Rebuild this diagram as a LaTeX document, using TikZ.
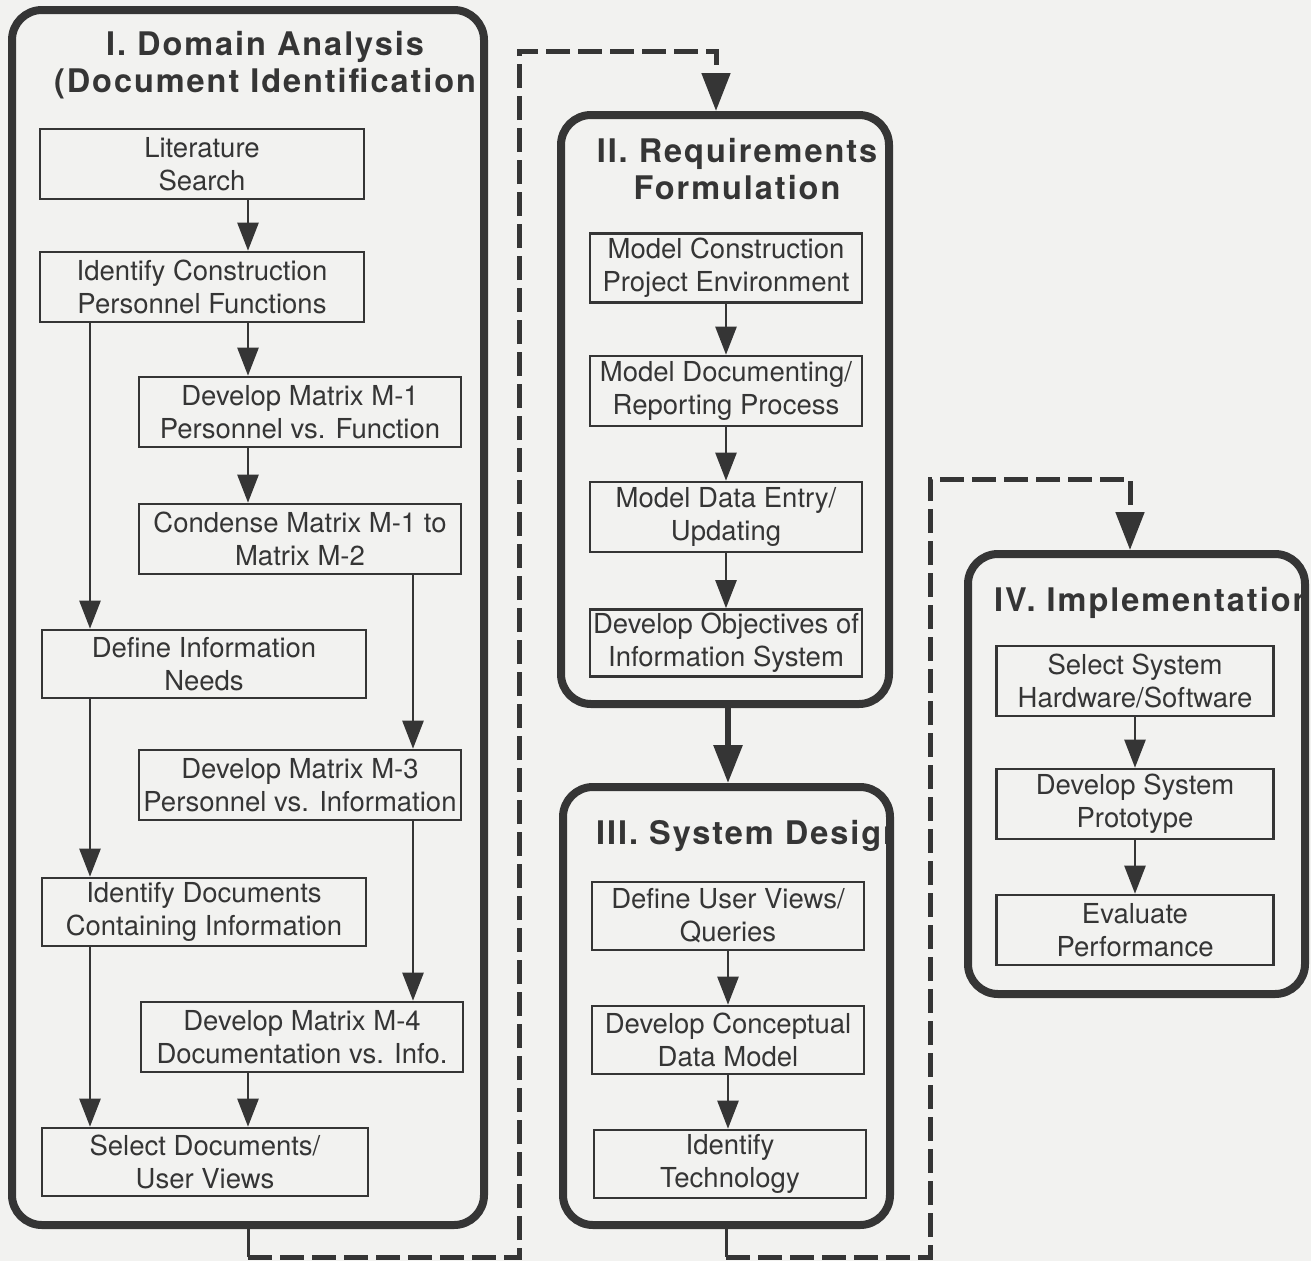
\documentclass[tikz,border=0pt]{standalone}
\usepackage{fontspec}
\setmainfont{TeX Gyre Heros}
\newfontfamily\ttlfont{TeX Gyre Heros}[LetterSpace=6]
\usetikzlibrary{arrows.meta}
\definecolor{ln}{HTML}{353535}
\definecolor{bgc}{HTML}{F2F2F0}
\begin{document}
\begin{tikzpicture}[x=1pt,y=-1pt,
 bx/.style={draw=ln, line width=2.6pt, inner sep=0pt, minimum height=70pt, align=center, text=ln, font=\fontsize{27.5}{33}\selectfont},
 panel/.style={draw=ln, line width=8pt, rounded corners=30pt, inner sep=0pt},
 ttl/.style={text=ln, align=center, inner sep=0pt, font=\ttlfont\bfseries\fontsize{32.5}{37}\selectfont},
 arr/.style={draw=ln, line width=2.5pt, -{Triangle[length=28pt,width=21pt]}},
 big/.style={draw=ln, line width=6pt, -{Triangle[length=38pt,width=28pt]}},
 dsh/.style={draw=ln, line width=5pt, dash pattern=on 24pt off 8pt, -{Triangle[length=38pt,width=28pt]}},
 stub/.style={draw=ln, line width=3pt}]
\fill[bgc] (0,0) rectangle (1311,1261);
\useasboundingbox (0,0) rectangle (1311,1261);
\clip (0,0) rectangle (1311,1261);
% titles
\node[ttl] (t1) at (265,65) {I. Domain Analysis\\(Document Identification};
\node[ttl] (t2) at (737,169) {II. Requirements\\Formulation};
\begin{scope}
\clip (560,790) rectangle (891,870);
\node[ttl, anchor=base west] (t3) at (596,844) {III. System Design};
\end{scope}
\begin{scope}
\clip (960,560) rectangle (1306,640);
\node[ttl, anchor=base west] (t4) at (994,611) {IV. Implementation};
\end{scope}
% panels
\node[panel, minimum width=472pt, minimum height=1215pt] (p1) at (248,617.5) {};
\node[panel, minimum width=328pt, minimum height=589pt] (p2) at (725,409.5) {};
\node[panel, minimum width=327pt, minimum height=438pt] (p3) at (726.5,1006) {};
\node[panel, minimum width=337pt, minimum height=440pt] (p4) at (1136.5,774) {};
% panel I boxes
\node[bx, minimum width=324pt] (lit) at (202,164) {Literature\\Search};
\node[bx, minimum width=324pt] (icp) at (202,287) {Identify Construction\\Personnel Functions};
\node[bx, minimum width=322pt] (m1) at (300,412) {Develop Matrix M-1\\Personnel vs. Function};
\node[bx, minimum width=322pt] (m2) at (300,539) {Condense Matrix M-1 to\\Matrix M-2};
\node[bx, minimum width=324pt, minimum height=68pt] (din) at (204,664) {Define Information\\Needs};
\node[bx, minimum width=322pt] (m3) at (300,785) {Develop Matrix M-3\\Personnel vs. Information};
\node[bx, minimum width=324pt, minimum height=68pt] (idc) at (204,912) {Identify Documents\\Containing Information};
\node[bx, minimum width=322pt] (m4) at (302,1037) {Develop Matrix M-4\\Documentation vs. Info.};
\node[bx, minimum width=326pt, minimum height=68pt] (sel) at (205,1162) {Select Documents/\\User Views};
% panel II boxes
\node[bx, minimum width=272pt, minimum height=69pt] (mc) at (726,268) {Model Construction\\Project Environment};
\node[bx, minimum width=272pt] (mdr) at (726,391) {Model Documenting/\\Reporting Process};
\node[bx, minimum width=272pt] (mde) at (726,517) {Model Data Entry/\\Updating};
\node[bx, minimum width=272pt, minimum height=67pt] (obj) at (726,643) {Develop Objectives of\\Information System};
% panel III boxes
\node[bx, minimum width=272pt, minimum height=68pt] (uv) at (728,916) {Define User Views/\\Queries};
\node[bx, minimum width=272pt, minimum height=68pt] (cdm) at (728,1040) {Develop Conceptual\\Data Model};
\node[bx, minimum width=272pt, minimum height=68pt] (tech) at (730,1164) {Identify\\Technology};
% panel IV boxes
\node[bx, minimum width=277pt] (hw) at (1135,681) {Select System\\Hardware/Software};
\node[bx, minimum width=277pt] (proto) at (1135,804) {Develop System\\Prototype};
\node[bx, minimum width=277pt] (eval) at (1135,930) {Evaluate\\Performance};
% helper coordinates
\coordinate (cx) at (248,0);
\coordinate (lx) at (90,0);
\coordinate (rx) at (413,0);
\coordinate (c2) at (726,0);
\coordinate (c3) at (728,0);
\coordinate (c4) at (1135,0);
\coordinate (bx2) at (728,0);
% panel I arrows
\draw[arr] (lit.south -| cx) -- (icp.north -| cx);
\draw[arr] (icp.south -| cx) -- (m1.north -| cx);
\draw[arr] (icp.south -| lx) -- (din.north -| lx);
\draw[arr] (m1.south -| cx) -- (m2.north -| cx);
\draw[arr] (m2.south -| rx) -- (m3.north -| rx);
\draw[arr] (din.south -| lx) -- (idc.north -| lx);
\draw[arr] (m3.south -| rx) -- (m4.north -| rx);
\draw[arr] (idc.south -| lx) -- (sel.north -| lx);
\draw[arr] (m4.south -| cx) -- (sel.north -| cx);
% panel II arrows
\draw[arr] (mc.south -| c2) -- (mdr.north -| c2);
\draw[arr] (mdr.south -| c2) -- (mde.north -| c2);
\draw[arr] (mde.south -| c2) -- (obj.north -| c2);
% panel III arrows
\draw[arr] (uv.south -| c3) -- (cdm.north -| c3);
\draw[arr] (cdm.south -| c3) -- (tech.north -| c3);
% panel IV arrows
\draw[arr] (hw.south -| c4) -- (proto.north -| c4);
\draw[arr] (proto.south -| c4) -- (eval.north -| c4);
% panel connectors
\draw[big] (p2.south -| bx2) -- (p3.north -| bx2);
\coordinate (b1) at (248,1257);
\coordinate (c1a) at (519,1257);
\coordinate (c1b) at (519,51);
\coordinate (c1c) at (716,51);
\draw[stub] (p1.south -| b1) -- (b1);
\draw[dsh] (b1) -- (c1a) -- (c1b) -- (c1c) -- (p2.north -| c1c);
\coordinate (b3) at (726,1257);
\coordinate (c3a) at (930,1257);
\coordinate (c3b) at (930,479);
\coordinate (c3c) at (1130,479);
\draw[stub] (p3.south -| b3) -- (b3);
\draw[dsh] (b3) -- (c3a) -- (c3b) -- (c3c) -- (p4.north -| c3c);
\end{tikzpicture}
\end{document}
